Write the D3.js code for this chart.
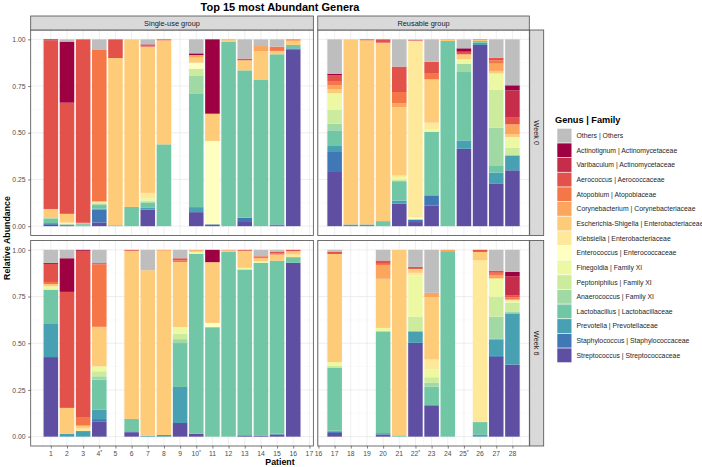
<!DOCTYPE html>
<html><head><meta charset="utf-8">
<script src="https://cdn.jsdelivr.net/npm/d3@7"></script>
<style>body{margin:0;background:#fff} svg{display:block;font-family:"Liberation Sans",Arial,Helvetica,sans-serif}</style>
</head><body><svg id="c" width="702" height="467"></svg>
<script>
// ---------- data ----------
const genera = ["Others | Others","Actinotignum | Actinomycetaceae","Varibaculum | Actinomycetaceae",
  "Aerococcus | Aerococcaceae","Atopobium | Atopobiaceae","Corynebacterium | Corynebacteriaceae",
  "Escherichia-Shigella | Enterobacteriaceae","Klebsiella | Enterobacteriaceae","Enterococcus | Enterococcaceae",
  "Finegoldia | Family XI","Peptoniphilus | Family XI","Anaerococcus | Family XI",
  "Lactobacillus | Lactobacillaceae","Prevotella | Prevotellaceae","Staphylococcus | Staphylococcaceae",
  "Streptococcus | Streptococcaceae"];
const palette = ["#BEBEBE","#9E0142","#C52D4B","#E2524A","#F57647","#FCA55D","#FECB79","#FEE99A",
  "#FFFFBF","#EDF8A3","#CDEB9D","#A1D9A4","#70C6A5","#48A1B3","#3F78B5","#5E4FA2"];
const groups = ["Single-use group","Reusable group"];
const groupPatients = [[1,2,3,4,5,6,7,8,9,10,11,12,13,14,15,16],[17,18,19,20,21,22,23,24,25,26,27,28]];
const tickValues = [[1,2,3,4,5,6,7,8,9,10,11,12,13,14,15,16,17],[16,17,18,19,20,21,22,23,24,25,26,27,28]];
const starred = [4,10,22,25];
const weeks = ["Week 0","Week 6"];
const yTicks = [0,0.25,0.5,0.75,1];
const yTickLabels = ["0.00","0.25","0.50","0.75","1.00"];

// each row: patient values in legend order (Others ... Streptococcus); null = no sample
const week0 = [
 [0,0.003,0.002,0.903,0,0,0.048,0,0,0,0,0.003,0.024,0.005,0.005,0.007],
 [0.012,0.327,0,0.595,0,0,0.046,0.005,0,0.005,0,0,0.005,0,0,0.005],
 [0,0,0,0.982,0.003,0,0.004,0,0,0,0,0,0.008,0.003,0,0],
 [0.057,0,0,0,0.81,0,0.005,0,0,0.005,0.005,0.005,0.02,0.005,0.068,0.02],
 [0,0,0,0.10,0,0,0.895,0,0,0,0,0,0.005,0,0,0],
 [0,0,0,0,0,0,0.897,0,0,0,0,0,0.103,0,0,0],
 [0.027,0,0.004,0.008,0,0,0.783,0.027,0,0.014,0.008,0.004,0.027,0.009,0,0.089],
 [0,0,0,0.005,0,0,0.557,0,0,0,0,0,0.438,0,0,0],
 null,
 [0.075,0.009,0,0,0,0.014,0.027,0,0.032,0,0.036,0.096,0.609,0.027,0,0.075],
 [0,0.398,0,0,0,0,0.146,0,0.446,0,0,0,0,0,0.004,0.006],
 [0,0,0,0,0,0.004,0.01,0,0,0,0,0,0.986,0,0,0],
 [0.103,0,0,0.009,0,0,0.054,0,0,0,0,0,0.789,0,0.018,0.027],
 [0.036,0,0,0,0,0.027,0.152,0,0,0,0,0,0.785,0,0,0],
 [0.039,0,0,0,0.023,0,0.018,0,0,0,0,0,0.911,0,0.004,0.005],
 [0,0,0,0,0.004,0.005,0.021,0,0,0,0,0,0.018,0.005,0,0.947],
 [0.184,0.009,0,0.03,0.023,0.02,0.023,0,0,0.089,0.073,0.036,0.084,0.032,0.107,0.29],
 [0,0,0,0,0,0,0.991,0,0,0,0,0,0,0.009,0,0],
 [0,0,0,0.005,0,0,0.986,0,0,0,0,0,0,0.009,0,0],
 [0,0,0,0.018,0,0,0.955,0,0,0,0,0,0.027,0,0,0],
 [0.146,0,0,0.136,0.061,0.02,0.366,0.012,0,0.009,0.009,0,0.104,0.016,0,0.121],
 [0.005,0,0,0.004,0,0,0,0.943,0.012,0,0,0,0,0,0.014,0.022],
 [0.12,0,0,0.064,0.03,0,0.232,0.036,0,0.014,0,0,0.339,0,0.054,0.111],
 [0,0,0,0,0,0.004,0.005,0,0,0,0,0,0.991,0,0,0],
 [0.048,0.018,0,0.014,0,0,0.027,0,0,0.023,0,0.045,0.366,0.045,0,0.414],
 [0,0,0,0,0.004,0,0.005,0,0,0,0,0,0.009,0.012,0,0.97],
 [0.098,0,0,0.014,0.018,0.039,0.014,0,0,0.088,0.202,0.205,0.036,0.057,0,0.229],
 [0.246,0.027,0.143,0.039,0,0.054,0.014,0,0,0.057,0.041,0,0,0.08,0,0.299]
];
const week6 = [
 [0.07,0.005,0,0.097,0.011,0,0.012,0,0,0.018,0,0,0.184,0.177,0,0.426],
 [0.045,0.18,0,0.621,0,0,0.139,0,0,0,0,0,0,0.015,0,0],
 [0,0.005,0,0.89,0.046,0,0.015,0.014,0,0,0,0,0,0.03,0,0],
 [0.071,0,0,0.007,0.334,0,0.211,0,0,0.027,0.027,0.018,0.161,0.05,0.012,0.082],
 null,
 [0,0,0,0.005,0,0,0.9,0,0,0,0,0,0.066,0.005,0,0.024],
 [0.109,0,0,0,0,0,0.886,0,0,0,0,0,0,0.005,0,0],
 [0,0,0,0,0,0.005,0.986,0,0,0,0,0,0,0.009,0,0],
 [0.045,0,0,0.011,0.009,0,0.348,0,0,0.036,0.029,0.021,0.235,0.193,0,0.073],
 [0,0,0,0,0,0.005,0.006,0,0,0.011,0,0,0.962,0,0,0.016],
 [0,0.066,0,0,0,0,0.325,0,0.023,0,0,0,0.586,0,0,0],
 [0,0,0,0,0,0.005,0.006,0,0,0,0,0,0.989,0,0,0],
 [0,0,0,0.005,0,0,0.091,0,0,0.009,0,0,0.888,0,0,0.007],
 [0.034,0,0,0,0.011,0,0.016,0,0,0.009,0,0,0.926,0,0,0.004],
 [0.009,0,0,0.011,0.005,0.004,0.029,0,0,0,0,0,0.925,0.005,0,0.012],
 [0,0,0,0.007,0,0,0.018,0.014,0,0,0,0,0.03,0,0,0.931],
 [0.011,0,0,0.011,0,0,0.579,0,0,0.018,0.011,0,0.338,0.006,0.006,0.02],
 null,
 null,
 [0.057,0,0,0.018,0.009,0.071,0.263,0,0,0.018,0,0,0.545,0.007,0,0.012],
 [0,0,0,0,0,0,0.993,0,0,0,0,0,0.007,0,0,0],
 [0.091,0,0,0.011,0,0,0.021,0.014,0,0.222,0.077,0,0,0.062,0,0.502],
 [0.23,0,0,0,0,0.023,0.334,0.054,0,0.041,0.03,0.021,0.099,0,0,0.168],
 [0,0,0,0,0,0.007,0,0,0,0,0,0,0.993,0,0,0],
 null,
 [0,0,0,0.011,0,0,0.045,0.866,0,0,0,0,0.066,0.012,0,0],
 [0.111,0,0,0.012,0.014,0.016,0,0,0,0.098,0.107,0.116,0.005,0.089,0.005,0.427],
 [0.118,0.023,0.104,0.009,0.012,0,0.005,0,0,0.013,0.05,0,0.007,0.273,0,0.386]
];
const weekData = [week0, week6];

// ---------- layout ----------
const svg = d3.select("#c");
const plotL = 30.7, plotR = 529.3, colGap = 4.4;
const rowTop = [30, 240.5], rowH = 205.5;
const stripH = 14, stripTop = 16;
const barW = 0.9;

const colDomains = groupPatients.map(p => {
  const lo = d3.min(p) - barW/2, hi = d3.max(p) + barW/2, ex = 0.05*(hi-lo);
  return [lo-ex, hi+ex];
});
const totalUnits = d3.sum(colDomains, d => d[1]-d[0]);
const unitPx = (plotR - plotL - colGap) / totalUnits;
let cx = plotL;
const xScales = colDomains.map(d => {
  const w = (d[1]-d[0])*unitPx;
  const s = d3.scaleLinear().domain(d).range([cx, cx+w]);
  cx += w + colGap;
  return s;
});
const yScales = rowTop.map(t => d3.scaleLinear().domain([-0.05,1.05]).range([t+rowH, t]));

const color = d3.scaleOrdinal().domain(genera).range(palette);
const stackKeys = d3.range(genera.length).reverse();
const stack = d3.stack().keys(stackKeys).value((row, k) => row.v[k]);

const gridMajor = "#e6e6e6", gridMinor = "#f2f2f2", border = "#4d4d4d";

weekData.forEach((wd, r) => {
  const y = yScales[r];
  xScales.forEach((x, c) => {
    const [x0, x1] = x.range();
    const g = svg.append("g");
    g.append("rect").attr("x", x0).attr("y", rowTop[r]).attr("width", x1-x0).attr("height", rowH).attr("fill", "#fff");
    const [d0, d1] = x.domain();
    const majX = tickValues[c].filter(v => v >= d0 && v <= d1);
    const minX = majX.map(v => v + 0.5).filter(v => v <= d1).concat([majX[0]-0.5].filter(v => v >= d0));
    const minY = [0.125,0.375,0.625,0.875];
    g.selectAll(".mnx").data(minX).join("line").attr("x1", d => x(d)).attr("x2", d => x(d))
      .attr("y1", rowTop[r]).attr("y2", rowTop[r]+rowH).attr("stroke", gridMinor).attr("stroke-width", 0.4);
    g.selectAll(".mny").data(minY).join("line").attr("y1", d => y(d)).attr("y2", d => y(d))
      .attr("x1", x0).attr("x2", x1).attr("stroke", gridMinor).attr("stroke-width", 0.4);
    g.selectAll(".mjx").data(majX).join("line").attr("x1", d => x(d)).attr("x2", d => x(d))
      .attr("y1", rowTop[r]).attr("y2", rowTop[r]+rowH).attr("stroke", gridMajor).attr("stroke-width", 0.7);
    g.selectAll(".mjy").data(yTicks).join("line").attr("y1", d => y(d)).attr("y2", d => y(d))
      .attr("x1", x0).attr("x2", x1).attr("stroke", gridMajor).attr("stroke-width", 0.7);

    const rows = groupPatients[c].map(p => ({p, v: wd[p-1]})).filter(d => d.v);
    const series = stack(rows);
    series.forEach(s => {
      g.append("g").attr("fill", color(genera[s.key])).selectAll("rect").data(s).join("rect")
        .attr("x", d => x(d.data.p - barW/2))
        .attr("width", x(barW) - x(0))
        .attr("y", d => y(d[1]))
        .attr("height", d => Math.max(0, y(d[0]) - y(d[1])));
    });
    g.append("rect").attr("x", x0).attr("y", rowTop[r]).attr("width", x1-x0).attr("height", rowH)
      .attr("fill", "none").attr("stroke", border).attr("stroke-width", 0.8);

    if (c === 0) {
      const ax = g.append("g").attr("transform", `translate(${x0},0)`)
        .call(d3.axisLeft(y).tickValues(yTicks).tickFormat((d,i) => yTickLabels[i]).tickSize(2.6).tickPadding(2.5));
      ax.select(".domain").remove();
      ax.selectAll("line").attr("stroke", "#333").attr("stroke-width", 0.6);
      ax.selectAll("text").attr("fill", "#4d4d4d").style("font-size", "6.8px").style("font-family", "inherit");
    }
    if (r === 1) {
      const ax = g.append("g").attr("transform", `translate(0,${rowTop[r]+rowH})`)
        .call(d3.axisBottom(x).tickValues(tickValues[c]).tickFormat("").tickSize(2.6));
      ax.select(".domain").remove();
      ax.selectAll("line").attr("stroke", "#333").attr("stroke-width", 0.6);
      const lab = g.append("g").selectAll("text").data(tickValues[c]).join("text")
        .attr("x", d => x(d)).attr("y", rowTop[r]+rowH+10)
        .attr("text-anchor", "middle").attr("fill", "#4d4d4d").style("font-size", "6.8px");
      lab.append("tspan").text(d => d);
      lab.filter(d => starred.includes(d)).append("tspan").attr("dy", -2.5).style("font-size", "5px").text("*");
    }
    if (r === 0) {
      g.append("rect").attr("x", x0).attr("y", stripTop).attr("width", x1-x0).attr("height", stripH)
        .attr("fill", "#d9d9d9").attr("stroke", border).attr("stroke-width", 0.8);
      g.append("text").attr("x", (x0+x1)/2).attr("y", stripTop + stripH/2).attr("dy", "0.35em")
        .attr("text-anchor", "middle").attr("fill", "#1a1a1a").style("font-size", "7.4px").text(groups[c]);
    }
  });
  const sx = plotR + 0.4;
  svg.append("rect").attr("x", sx).attr("y", rowTop[r]).attr("width", stripH).attr("height", rowH)
    .attr("fill", "#d9d9d9").attr("stroke", border).attr("stroke-width", 0.8);
  svg.append("text").attr("transform", `translate(${sx + stripH/2},${rowTop[r]+rowH/2}) rotate(90)`)
    .attr("dy", "0.35em").attr("text-anchor", "middle").attr("fill", "#1a1a1a")
    .style("font-size", "7.4px").text(weeks[r]);
});

svg.append("text").attr("x", (plotL+plotR)/2).attr("y", 11).attr("text-anchor", "middle")
  .style("font-size", "11px").style("font-weight", "bold").attr("fill", "#000").text("Top 15 most Abundant Genera");
svg.append("text").attr("x", (plotL+plotR)/2).attr("y", 465).attr("text-anchor", "middle")
  .style("font-size", "8.8px").style("font-weight", "bold").attr("fill", "#000").text("Patient");
svg.append("text").attr("transform", `translate(10,${(rowTop[0] + rowTop[1]+rowH)/2}) rotate(-90)`)
  .attr("text-anchor", "middle").style("font-size", "8.8px").style("font-weight", "bold").attr("fill", "#000")
  .text("Relative Abundance");

const lg = svg.append("g");
lg.append("text").attr("x", 555).attr("y", 123).style("font-size", "9.2px").style("font-weight", "bold")
  .attr("fill", "#000").text("Genus | Family");
const keyY = d3.scaleBand().domain(genera).range([128.7, 128.7 + 14.6*genera.length]).paddingInner(0.05).paddingOuter(0);
lg.selectAll("rect").data(genera).join("rect").attr("x", 557.3).attr("y", d => keyY(d))
  .attr("width", 14.2).attr("height", keyY.bandwidth()).attr("fill", d => color(d));
lg.selectAll(".lt").data(genera).join("text").attr("x", 576.5).attr("y", d => keyY(d) + keyY.bandwidth()/2)
  .attr("dy", "0.35em").style("font-size", "6.85px").attr("fill", "#262626").text(d => d);
</script></body></html>
